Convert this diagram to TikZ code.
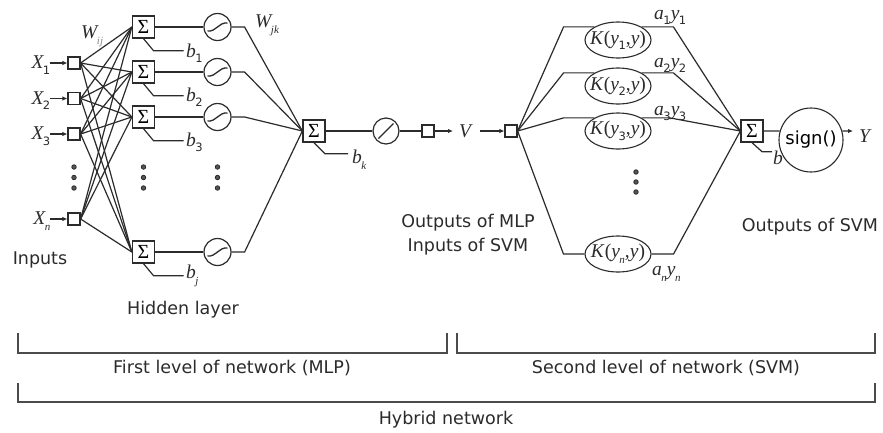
\documentclass[tikz,border=0pt]{standalone}
\usepackage{fontspec}
\setmainfont{Liberation Serif}
\setsansfont{DejaVu Sans}
\usetikzlibrary{arrows.meta,calc,shapes.geometric}
\definecolor{ink}{HTML}{2B2B2B}
\newcommand{\subd}[1]{\kern-0.5pt\raisebox{-5.5pt}{\fontsize{11.5}{11.5}\selectfont\sffamily\upshape #1}}
\newcommand{\subi}[1]{\kern-0.5pt\raisebox{-6pt}{\fontsize{11}{11}\selectfont\itshape #1}}
\begin{document}
\begin{tikzpicture}[x=1pt,y=-1pt,
  ln/.style={draw=ink, line width=1.2pt},
  brk/.style={draw=ink!85, line width=1.1pt},
  insq/.style={draw=ink, line width=1.2pt, minimum size=12pt, inner sep=0pt},
  sumbox/.style={draw=ink, line width=1.3pt, minimum size=22pt, inner sep=0pt, font=\fontsize{20}{20}\selectfont},
  sig/.style={circle, draw=ink, line width=1.2pt, minimum size=27pt, inner sep=0pt,
    path picture={\draw[ink, line width=1.3pt] ($(path picture bounding box.center)+(-10pt,-4pt)$) .. controls ($(path picture bounding box.center)+(-1pt,-5pt)$) and ($(path picture bounding box.center)+(1pt,5pt)$) .. ($(path picture bounding box.center)+(10pt,4pt)$);}},
  linc/.style={circle, draw=ink, line width=1.2pt, minimum size=26pt, inner sep=0pt,
    path picture={\draw[ink, line width=1.3pt] ($(path picture bounding box.center)+(-7.5pt,-7.5pt)$) -- ($(path picture bounding box.center)+(7.5pt,7.5pt)$);}},
  kell/.style={ellipse, draw=ink, line width=1.1pt, minimum width=66pt, minimum height=36pt, inner sep=0pt},
  signc/.style={circle, draw=ink, line width=1.1pt, minimum size=64pt, inner sep=0pt, font=\sffamily\fontsize{18}{18}\selectfont},
  mlab/.style={inner sep=0pt, text=ink, font=\fontsize{19.5}{19.5}\selectfont\itshape},
  klab/.style={inner sep=0pt, text=ink, font=\fontsize{19.5}{19.5}\selectfont},
  txt/.style={inner sep=0pt, text=ink, font=\sffamily\fontsize{17.5}{24}\selectfont, align=center},
  dotc/.style={circle, fill=ink!80, draw=ink, line width=0.8pt, minimum size=4.5pt, inner sep=0pt},
  arr/.style={ln, -{Latex[length=5pt,width=4.5pt]}}
]
\fill[white] (0,0) rectangle (883,432);
\useasboundingbox (0,0) rectangle (883,432);

% ---------- MLP nodes ----------
\foreach \n/\y in {1/63,2/98.5,3/134,n/219}
  \node[insq] (i\n) at (74,\y) {};
\foreach \n/\y in {1/27,2/72,3/117,j/252}{
  \node[sumbox] (h\n) at (143.5,\y) {Σ};
  \node[sig] (s\n) at (217.5,\y) {};
}
\node[sumbox] (o) at (314,131) {Σ};
\node[linc] (l) at (386,131) {};
\node[insq] (q) at (428,131) {};

% ---------- SVM nodes ----------
\node[insq] (p) at (511,131) {};
\node[kell] (K1) at (618,40) {};
\node[kell] (K2) at (618,86) {};
\node[kell] (K3) at (618,131) {};
\node[kell] (Kn) at (618,254) {};
\node[klab] (kt1) at (K1) {\textit{K}(\textit{y}\subd{1},\textit{y})};
\node[klab] (kt2) at (K2) {\textit{K}(\textit{y}\subd{2},\textit{y})};
\node[klab] (kt3) at (K3) {\textit{K}(\textit{y}\subd{3},\textit{y})};
\node[klab] (ktn) at (Kn) {\textit{K}(\textit{y}\subi{n},\textit{y})};
\node[sumbox] (S) at (752,131) {Σ};
\node[signc] (g) at (811,140) {sign()};

% ---------- free ends ----------
\foreach \n/\y in {1/63,2/98.5,3/134,n/219}
  \coordinate (xa\n) at (50,\y);
\coordinate (va) at (453,131);
\coordinate (vb) at (480,131);
\coordinate (ye) at (853,131);

% ---------- connectors MLP ----------
\foreach \n in {1,2,3,n}
  \draw[arr] (xa\n) -- (i\n.west);
\foreach \a in {1,2,3,n}
  \foreach \b in {1,2,3,j}
    \draw[ln] (i\a.east) -- (h\b.west);
\foreach \n in {1,2,3,j}{
  \draw[ln] (h\n.east) -- (s\n.west);
  \draw[ln] (s\n.east) -- ++(13,0) -- (o.west);
  \draw[ln] (h\n.south) -- ++(10,12) -- ++(30,0);
}
\draw[ln] (o.south) -- ++(11,11) -- ++(23,0);
\draw[ln] (o.east) -- (l.west);
\draw[ln] (l.east) -- (q.west);
\draw[arr] (q.east) -- (va);
\draw[arr] (vb) -- (p.west);

% ---------- connectors SVM ----------
\foreach \k in {K1,K2,K3}{
  \draw[ln] (p.east) -- ($(\k.north west)+(-30.7,0)$) -- (\k.north west);
}
\draw[ln] (p.east) -- ($(Kn.west)+(-21,0)$) -- (Kn.west);
\draw[ln] (K1.north east) -- ($(K1.north east)+(31.7,0)$) -- (S.west);
\draw[ln] (K2.north east) -- ($(K2.north east)+(31.7,0)$) -- (S.west);
\draw[ln] (K3.north east) -- ($(K3.north east)+(28,0)$) -- (S.west);
\draw[ln] (Kn.east) -- ($(Kn.east)+(22,0)$) -- (S.west);
\draw[ln] (S.south) -- ++(10,9) -- ++(10,0);
\draw[ln] (S.east) -- (g.164);
\draw[arr] (g.16) -- (ye);

% ---------- dots ----------
\foreach \x/\c in {74/a,143.5/b,217.5/c}
  \foreach \y/\r in {167/1,177.5/2,188/3}
    \node[dotc] (d\c\r) at (\x,\y) {};
\foreach \y/\r in {172/1,182/2,192/3}
  \node[dotc] (dd\r) at (636,\y) {};

% ---------- math labels ----------
\node[mlab, anchor=base east] (lx1) at (50.5,68.5) {X\subd{1}};
\node[mlab, anchor=base east] (lx2) at (50.5,104) {X\subd{2}};
\node[mlab, anchor=base east] (lx3) at (50.5,139.5) {X\subd{3}};
\node[mlab, anchor=base east] (lxn) at (50.5,224.5) {X\subi{n}};
\node[mlab, anchor=base west] (lwij) at (81,38) {W\subi{\textcolor{ink!55}{ij}}};
\node[mlab, anchor=base west] (lwjk) at (255,27) {W\subi{jk}};
\node[mlab, anchor=base west] (lb1) at (186,57) {b\subd{1}};
\node[mlab, anchor=base west] (lb2) at (186,101) {b\subd{2}};
\node[mlab, anchor=base west] (lb3) at (186,146) {b\subd{3}};
\node[mlab, anchor=base west] (lbj) at (186,278) {b\subi{j}};
\node[mlab, anchor=base west] (lbk) at (352,163) {b\subi{k}};
\node[mlab, anchor=base west] (lv) at (459,137) {V};
\node[mlab, anchor=base west] (la1) at (654,19) {a\subd{1}y\subd{1}};
\node[mlab, anchor=base west] (la2) at (654,67) {a\subd{2}y\subd{2}};
\node[mlab, anchor=base west] (la3) at (654,115) {a\subd{3}y\subd{3}};
\node[mlab, anchor=base west] (lan) at (652,275) {a\subi{n}y\subi{n}};
\node[mlab, anchor=base west] (lb) at (773,164) {b};
\node[mlab, anchor=base west] (ly) at (859,142) {Y};

% ---------- text labels ----------
\node[txt] (tin) at (40,260) {Inputs};
\node[txt] (thid) at (183,310) {Hidden layer};
\node[txt] (tmlp) at (468,235) {Outputs of MLP\\Inputs of SVM};
\node[txt] (tsvm) at (810,227) {Outputs of SVM};

% ---------- brackets ----------
\draw[brk] (18,333) -- (18,353) -- (447,353) -- (447,333);
\draw[brk] (457,333) -- (457,353) -- (875,353) -- (875,333);
\draw[brk] (18,383) -- (18,402) -- (875,402) -- (875,383);
\node[txt] (tfirst) at (232,368) {First level of network (MLP)};
\node[txt] (tsecond) at (666,368) {Second level of network (SVM)};
\node[txt] (thyb) at (446,420) {Hybrid network};
\end{tikzpicture}
\end{document}
